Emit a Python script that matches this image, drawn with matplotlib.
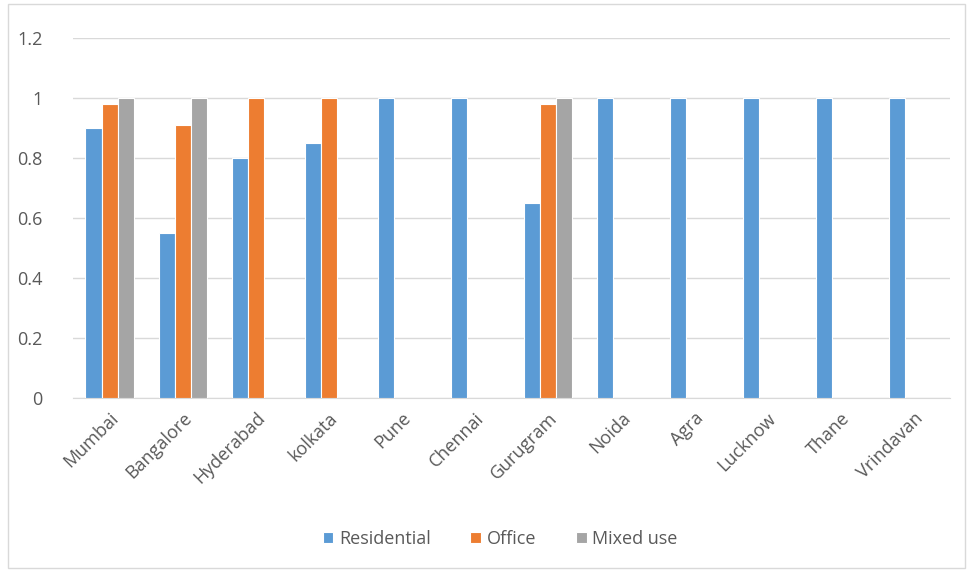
import numpy as np
from matplotlib import pyplot as plt
from matplotlib.patches import Rectangle

CITIES = ['Mumbai', 'Bangalore', 'Hyderabad', 'kolkata', 'Pune', 'Chennai',
          'Gurugram', 'Noida', 'Agra', 'Lucknow', 'Thane', 'Vrindavan']
RESIDENTIAL = [0.9, 0.55, 0.8, 0.85, 1, 1, 0.65, 1, 1, 1, 1, 1]
OFFICE = [0.98, 0.91, 1, 1, 0, 0, 0.98, 0, 0, 0, 0, 0]
MIXED_USE = [1, 1, 0, 0, 0, 0, 1, 0, 0, 0, 0, 0]
Y_TICKS = [0, 0.2, 0.4, 0.6, 0.8, 1, 1.2]

SERIES = [('Residential', RESIDENTIAL, '#5b9bd5'),
          ('Office', OFFICE, '#ed7d31'),
          ('Mixed use', MIXED_USE, '#a5a5a5')]

plt.rcParams['font.family'] = ['Open Sans', 'DejaVu Sans']

fig = plt.figure(figsize=(9.69, 5.72), dpi=100)
ax = fig.add_axes([73 / 969, 174 / 572, 877 / 969, 360 / 572])

x = np.arange(len(CITIES))
width = 0.22
for i, (name, values, color) in enumerate(SERIES):
    ax.bar(x + (i - 1) * width, values, width, label=name, color=color,
           edgecolor='white', linewidth=0.8, zorder=3)

ax.set_xlim(-0.5, len(CITIES) - 0.5)
ax.set_ylim(0, 1.2)
ax.set_yticks(Y_TICKS)
ax.set_yticklabels(['0', '0.2', '0.4', '0.6', '0.8', '1', '1.2'])
ax.set_xticks(x)
ax.set_xticklabels(CITIES, rotation=45, ha='right', rotation_mode='anchor')
ax.tick_params(axis='both', length=0, colors='#595959', labelsize=13)
ax.tick_params(axis='x', pad=8)
ax.tick_params(axis='y', pad=22)
ax.grid(axis='y', color='#d9d9d9', linewidth=1, zorder=0)
for side in ['top', 'right', 'left']:
    ax.spines[side].set_visible(False)
ax.spines['bottom'].set_color('#d9d9d9')

fig.legend(loc='center', bbox_to_anchor=(0.516, 1 - 539 / 572), ncol=3,
           frameon=False, fontsize=13, handlelength=0.6, handleheight=0.6,
           columnspacing=2.2, handletextpad=0.3, labelcolor='#595959')

# thin frame around the whole chart area
fig.patches.append(Rectangle((8 / 969, 4 / 572), 957 / 969, 564 / 572,
                             transform=fig.transFigure, fill=False,
                             edgecolor='#d9d9d9', linewidth=1))

fig.savefig('out.png', dpi=100)
